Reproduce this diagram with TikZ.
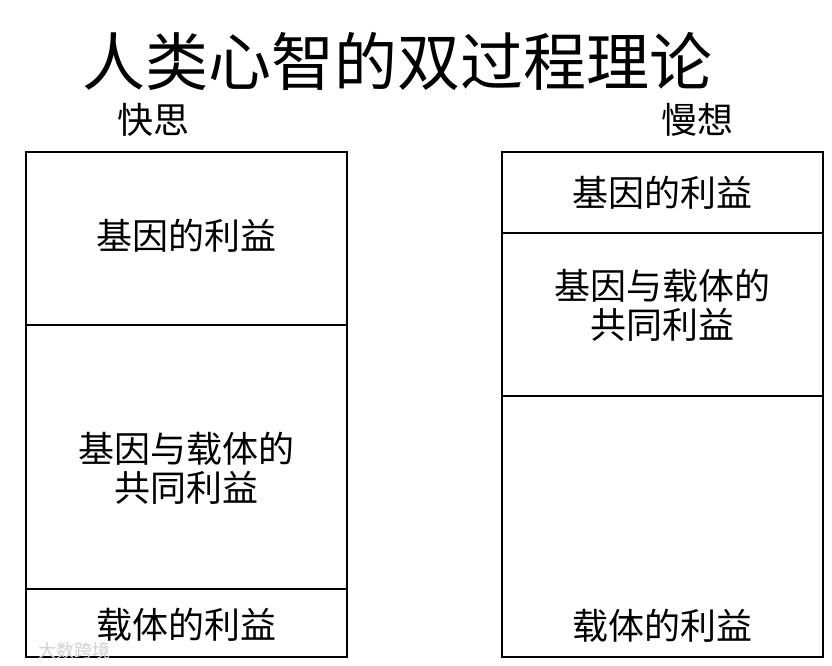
\documentclass[tikz,border=0pt]{standalone}
\usepackage{fontspec}
\setmainfont{Noto Sans CJK SC}
\usetikzlibrary{positioning}

\begin{document}
\begin{tikzpicture}[x=1pt, y=1pt, node distance=0pt,
  cell/.style={draw, line width=1.8pt, minimum width=321pt, inner sep=0pt, outer sep=0pt},
  txt/.style={font=\fontsize{36}{39}\selectfont, align=center, inner sep=0pt}]
\useasboundingbox[fill=white] (0,0) rectangle (832,666);
\node[font=\fontsize{63}{70}\selectfont] (title) at (397,604) {人类心智的双过程理论};
\node[txt] (fast) at (153,546) {快思};
\node[txt] (slow) at (697,546) {慢想};
% fast column
\node[cell, minimum height=173pt, anchor=north] (f1) at (186.5,514) {};
\node[cell, minimum height=264pt, below=of f1] (f2) {};
\node[cell, minimum height=68pt, below=of f2] (f3) {};
\node[txt] at ([yshift=3pt]f1.center) {基因的利益};
\node[txt] at ([yshift=-11pt]f2.center) {基因与载体的\\共同利益};
\node[txt] at ([yshift=-2pt]f3.center) {载体的利益};
% slow column
\node[cell, minimum height=81pt, anchor=north] (s1) at (662.5,514) {};
\node[cell, minimum height=163pt, below=of s1] (s2) {};
\node[cell, minimum height=261pt, below=of s2] (s3) {};
\node[txt] at (s1.center) {基因的利益};
\node[txt] at ([yshift=9pt]s2.center) {基因与载体的\\共同利益};
\node[txt, above=14pt of s3.south] {载体的利益};
% watermark
\node[font=\fontsize{18}{18}\selectfont, text=black!18] (mark) at (74,15) {大数跨境};
\end{tikzpicture}
\end{document}
